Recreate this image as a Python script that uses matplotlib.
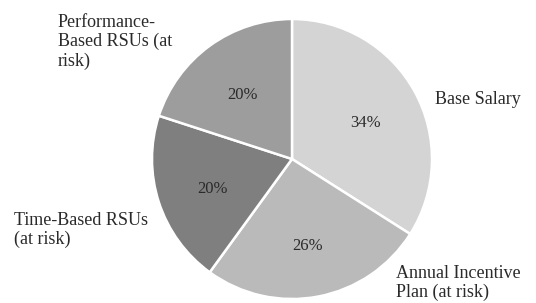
import matplotlib
matplotlib.use("Agg")
import matplotlib.pyplot as plt
import numpy as np

# pay mix data
labels = ["Base Salary", "Annual Incentive\nPlan (at risk)",
          "Time-Based RSUs\n(at risk)", "Performance-\nBased RSUs (at\nrisk)"]
shares = [34, 26, 20, 20]
colors = ["#d4d4d4", "#bababa", "#7f7f7f", "#9d9d9d"]

plt.rcParams['font.family'] = ['Liberation Serif', 'DejaVu Serif']

W, H = 536, 303
fig = plt.figure(figsize=(W / 100, H / 100), dpi=100)
# axes placed so the pie sits at (292, 158) px with radius ~140 px
ax = fig.add_axes([152 / W, 4 / H, 280 / W, 280 / H])

wedges, texts = ax.pie(shares, colors=colors, startangle=90, counterclock=False,
                       radius=1.0,
                       wedgeprops=dict(edgecolor="white", linewidth=1.8))
for w, s in zip(wedges, shares):
    ang = np.deg2rad((w.theta1 + w.theta2) / 2)
    r = 0.6
    ax.text(r * np.cos(ang), r * np.sin(ang) - 0.03, f"{s}%", ha="center", va="center",
            fontsize=12, color="#2a2a2a")
ax.set_xlim(-1, 1)
ax.set_ylim(-1, 1)
ax.set_aspect("equal")
ax.axis("off")

# outside labels (pixel positions: left, top)
label_pos = [(435, 91), (396, 265), (14, 212), (58, 14)]
for lab, (x, y) in zip(labels, label_pos):
    fig.text(x / W, 1 - y / H, lab, ha="left", va="top", fontsize=13,
             color="#2a2a2a", linespacing=1.15)

fig.savefig("out.png", dpi=100)
